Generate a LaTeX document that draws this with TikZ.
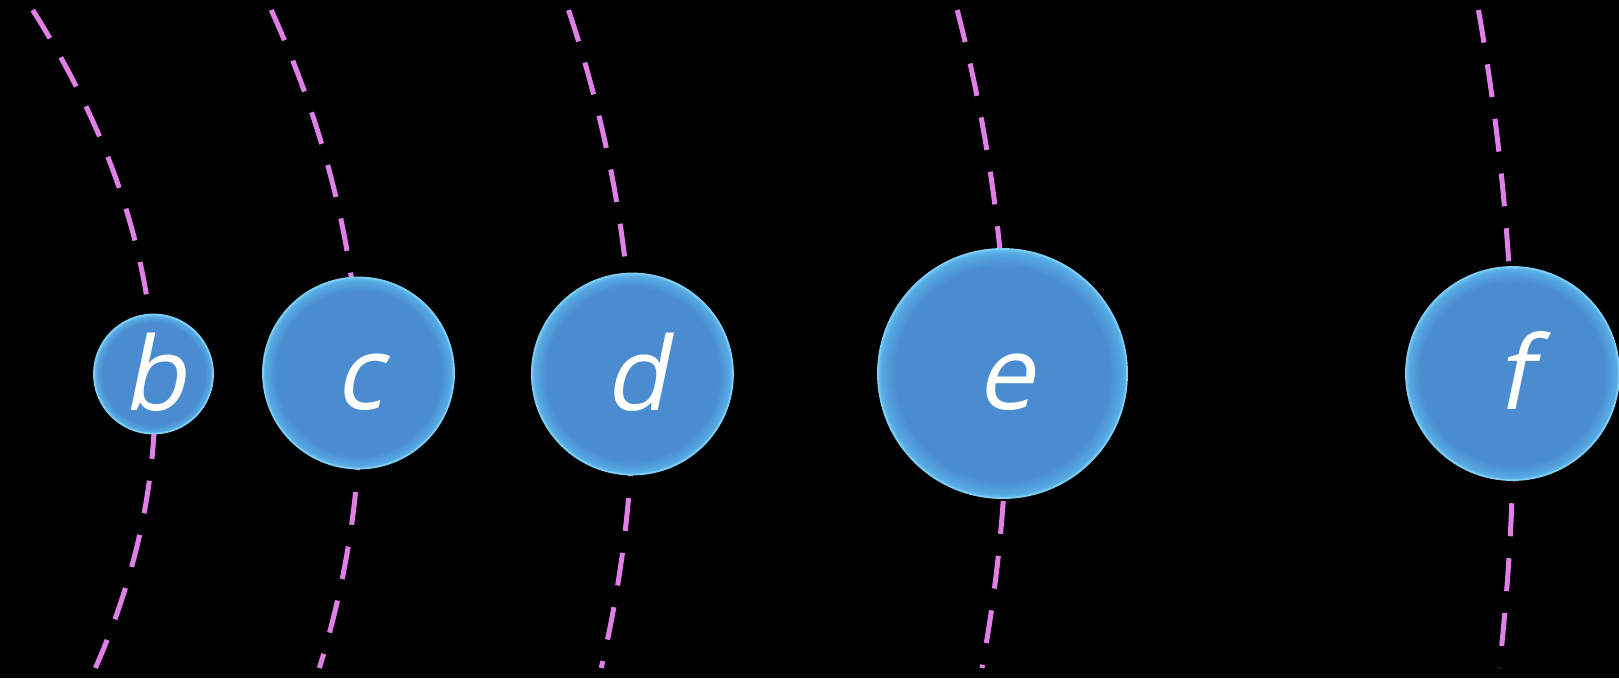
\documentclass[tikz,border=0pt]{standalone}
\usepackage{fontspec}
\newfontfamily\planetfont{Open Sans}[FakeSlant=0.21]
\definecolor{orbitpink}{HTML}{E07FE8}
\definecolor{planetcore}{HTML}{4A8CCF}
\definecolor{planetrim}{HTML}{56A8E2}
\definecolor{planetedge}{HTML}{64BFEF}
\definecolor{planetline}{HTML}{7FCDF3}
\pgfdeclareradialshading{planetglow}{\pgfpoint{0bp}{0bp}}{color(0bp)=(planetcore); color(21.5bp)=(planetcore); color(24.2bp)=(planetrim); color(25bp)=(planetedge); color(50bp)=(planetedge)}
\tikzset{
  orbit/.style={orbitpink, line width=0.05cm, dash pattern=on 0.33cm off 0.22cm},
  planet/.style={circle, shade, shading=planetglow, draw=planetline, line width=0.5pt,
    inner sep=0pt, text=white, text height=0.72cm, text depth=0pt,
    font=\planetfont\fontsize{29}{30}\selectfont}
}
\begin{document}
\begin{tikzpicture}[x=0.01cm, y=-0.01cm]

		% Background
		\fill[black] (0,0) rectangle (1619,678);
		\useasboundingbox (0,0) rectangle (1619,678);

		% Dashed orbits
		\draw[orbit] plot[domain=10:668, samples=60, variable=\t] ({155-(0.02853*(\t-397.5))^2}, \t);
		\draw[orbit] plot[domain=10:668, samples=60, variable=\t] ({360.3-(0.02406*(\t-402.2))^2}, \t);
		\draw[orbit] plot[domain=10:668, samples=60, variable=\t] ({633-(0.02076*(\t-396.7))^2}, \t);
		\draw[orbit] plot[domain=10:668, samples=60, variable=\t] ({1007-(0.01833*(\t-395))^2}, \t);
		\draw[orbit] plot[domain=10:668, samples=60, variable=\t] ({1513.6-(0.01476*(\t-411.8))^2}, \t);

		% Planets
		\node[planet, minimum size=1.19cm] (b) at (153.5,374) {b};
		\node[planet, minimum size=1.91cm] (c) at (358.5,373) {c};
		\node[planet, minimum size=2.01cm] (d) at (632.4,374) {\kern0.06cm d};
		\node[planet, minimum size=2.49cm] (e) at (1002.5,373.5) {\kern0.06cm e};
		\node[planet, minimum size=2.13cm] (f) at (1512.5,373.5) {\kern0.03cm f};

	\end{tikzpicture}
\end{document}
